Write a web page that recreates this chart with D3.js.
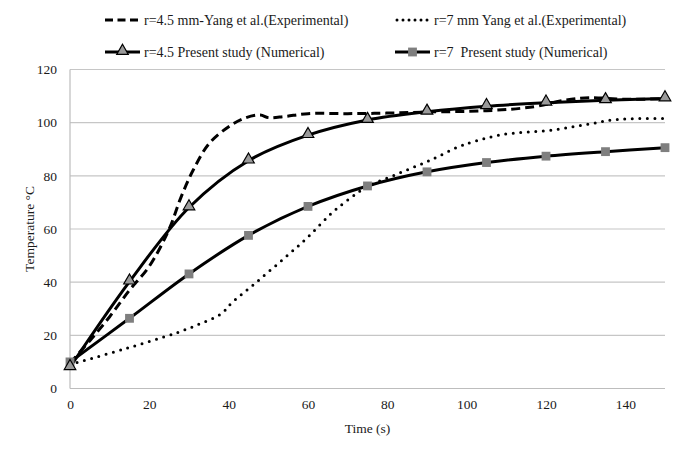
<!DOCTYPE html>
<html><head><meta charset="utf-8">
<script src="https://cdn.jsdelivr.net/npm/d3@7"></script>
<style>body{margin:0;background:#fff}svg text{font-family:"Liberation Serif","Times New Roman",serif;fill:#1a1a1a;white-space:pre}</style>
</head><body><svg id="c" width="700" height="450"></svg>
<script>
// Numerical series (every 15 s)
const numTime = [0,15,30,45,60,75,90,105,120,135,150];
const num45 = [8,40.2,68.1,85.7,95.3,101,104.1,106.2,107.5,108.4,109.1];
const num7 = [10,26.4,43.1,57.6,68.5,76.2,81.5,85,87.4,89.1,90.6];
// Experimental series (Yang et al.)
const exp45Time = [0,5,10,15,20,25,28,31,35,40,44,48,50,54,60,70,80,90,105,117,125,131,140,150];
const exp45 = [9.5,18,27,37,46,60,72,82,92,98.5,101.7,102.9,101.9,102.3,103.4,103.4,103.6,104,104.5,106,108.5,109.4,108.8,109];
const exp7Time = [0,14,27,33,38,41,47,54,60,66,71,75,83,91,98,101,109,122,132,138,150];
const exp7 = [9,15,21,24.5,28,32.5,40,49,57,66,72,76,81,86,91,92.5,95.5,97.3,99.8,101.2,101.6];
const xTicks = [0,20,40,60,80,100,120,140];
const yTicks = [0,20,40,60,80,100,120];
const legendLabels = ["r=4.5 mm-Yang et al.(Experimental)","r=7 mm Yang et al.(Experimental)","r=4.5 Present study (Numerical)","r=7  Present study (Numerical)"];

const svg = d3.select("#c");
const x = d3.scaleLinear().domain([0,150]).range([70,665]);
const y = d3.scaleLinear().domain([0,120]).range([388.5,69.5]);

// gridlines
svg.append("g").selectAll("line").data(yTicks.filter(d=>d>0)).join("line")
  .attr("x1",x(0)).attr("x2",x(150)).attr("y1",d=>y(d)).attr("y2",d=>y(d))
  .attr("stroke","#c6c6c6").attr("stroke-width",1.2);
// axes lines
svg.append("line").attr("x1",x(0)).attr("x2",x(0)).attr("y1",y(0)).attr("y2",y(120)).attr("stroke","#bdbdbd").attr("stroke-width",1.2);
svg.append("line").attr("x1",x(0)).attr("x2",x(150)).attr("y1",y(0)).attr("y2",y(0)).attr("stroke","#bdbdbd").attr("stroke-width",1.2);

// tick labels via axes
const xa = svg.append("g").attr("transform",`translate(0,${y(0)})`)
  .call(d3.axisBottom(x).tickValues(xTicks).tickSize(0).tickPadding(11));
xa.select(".domain").remove();
const ya = svg.append("g").attr("transform",`translate(${x(0)},0)`)
  .call(d3.axisLeft(y).tickValues(yTicks).tickSize(0).tickPadding(13));
ya.select(".domain").remove();
svg.selectAll(".tick text").attr("font-size",13.5).attr("font-family","Liberation Serif").attr("fill","#1a1a1a");

svg.append("text").attr("x",x(75)).attr("y",433).attr("text-anchor","middle").attr("font-size",13.5).text("Time (s)");
svg.append("text").attr("transform",`translate(34,${(y(0)+y(120))/2}) rotate(-90)`).attr("text-anchor","middle").attr("font-size",13.5).text("Temperature °C");

const line = d3.line().x(d=>x(d[0])).y(d=>y(d[1])).curve(d3.curveCatmullRom.alpha(0.5));
const z = (a,b)=>a.map((t,i)=>[t,b[i]]);

svg.append("path").datum(z(exp7Time,exp7)).attr("d",line).attr("fill","none").attr("stroke","#000")
  .attr("stroke-width",3).attr("stroke-linecap","round").attr("stroke-dasharray","0,7.5");
svg.append("path").datum(z(exp45Time,exp45)).attr("d",line).attr("fill","none").attr("stroke","#000")
  .attr("stroke-width",3).attr("stroke-dasharray","9,5");
svg.append("path").datum(z(numTime,num7)).attr("d",line).attr("fill","none").attr("stroke","#000").attr("stroke-width",3);
svg.append("path").datum(z(numTime,num45)).attr("d",line).attr("fill","none").attr("stroke","#000").attr("stroke-width",3);

const sq = d3.symbol().type(d3.symbolSquare).size(78);
const tri = d3.symbol().type(d3.symbolTriangle).size(58);
svg.append("g").selectAll("path").data(z(numTime,num7)).join("path")
  .attr("transform",d=>`translate(${x(d[0])},${y(d[1])})`).attr("d",sq).attr("fill","#7f7f7f");
svg.append("g").selectAll("path").data(z(numTime,num45)).join("path")
  .attr("transform",d=>`translate(${x(d[0])},${y(d[1])-1})`).attr("d",tri).attr("fill","#9a9a9a").attr("stroke","#000").attr("stroke-width",1.2);

// legend
const lg = svg.append("g");
const items = [
  {x0:105,y0:20,type:"dash",label:legendLabels[0]},
  {x0:395,y0:20,type:"dot",label:legendLabels[1]},
  {x0:105,y0:52,type:"tri",label:legendLabels[2]},
  {x0:395,y0:52,type:"sq",label:legendLabels[3]}
];
items.forEach(it=>{
  const g = lg.append("g").attr("transform",`translate(${it.x0},${it.y0})`);
  const l = g.append("line").attr("x1",0).attr("x2",35).attr("y1",0).attr("y2",0).attr("stroke","#000").attr("stroke-width",3);
  if(it.type==="dash") l.attr("stroke-dasharray","8,4.5");
  if(it.type==="dot") l.attr("stroke-dasharray","0,6").attr("stroke-linecap","round").attr("x1",2).attr("x2",33);
  if(it.type==="tri") g.append("path").attr("transform","translate(17.5,-1)").attr("d",tri).attr("fill","#9a9a9a").attr("stroke","#000").attr("stroke-width",1.2);
  if(it.type==="sq") g.append("path").attr("transform","translate(17.5,0)").attr("d",sq).attr("fill","#7f7f7f");
  g.append("text").attr("x",39).attr("y",5).attr("font-size",14).attr("xml:space","preserve").text(it.label);
});
</script></body></html>
